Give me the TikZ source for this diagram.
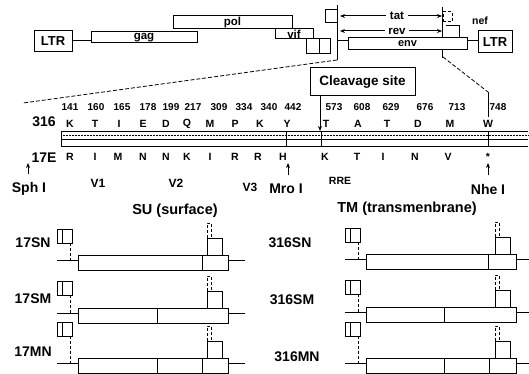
\documentclass[tikz,border=0pt]{standalone}
\usepackage{fontspec}
\setmainfont{Liberation Sans}
\usetikzlibrary{arrows.meta}
\newcommand\fsz[1]{\bfseries\fontsize{#1}{#1}\selectfont}
% #1 name, #2 x offset, #3 bar top, #4 small box top, #5 dividers (local x)
\newcommand\drawconstruct[5]{%
  \begin{scope}[xshift=#2pt]
    \node[box, minimum width=15pt, minimum height=14pt, anchor=north west] (#1L) at (57,#4) {};
    \draw ([xshift=5pt]#1L.north west) -- ([xshift=5pt]#1L.south west);
    \coordinate (#1a) at (57,#3+5);
    \coordinate (#1s) at (70,#3+5);
    \draw[densely dashed] (#1L.south -| #1s) -- (#1s);
    \node[box, minimum width=150pt, minimum height=15pt, anchor=north west] (#1B) at (78,#3) {};
    \draw (#1a) -- (#1a -| #1B.west);
    \draw (#1a -| #1B.east) -- ++(17,0);
    \foreach \d in {#5} \draw (\d,#3) -- (\d,#3+15);
    \node[box, minimum width=15pt, minimum height=17pt, anchor=south west] (#1R) at (207,#3) {};
    \node[box, densely dashed, minimum width=4pt, minimum height=15pt, anchor=south west] (#1T) at (#1R.north west) {};
  \end{scope}}
\begin{document}
\begin{tikzpicture}[x=1pt,y=-1pt,line width=1pt,
  box/.style={draw, fill=white, inner sep=0pt, outer sep=0pt},
  num/.style={font=\fsz{10}, inner sep=0pt},
  aa/.style={font=\fsz{10.5}, inner sep=0pt},
  big/.style={font=\fsz{14}, inner sep=0pt},
  enz/.style={font=\fsz{14}, inner sep=0pt},
  gl/.style={font=\fsz{11.5}, inner sep=0pt},
  tip/.style={-{Stealth[length=5pt,width=4pt]}},
  expl/.style={dash pattern=on 4pt off 2pt, line width=0.8pt}]
\useasboundingbox (0,0) rectangle (529,374);

% ---- genome map ----
\node[box, minimum width=119pt, minimum height=13pt, font=\fsz{11.5}] (pol) at (232.5,22.5) {pol};
\node[box, minimum width=38pt, minimum height=21pt, font=\fsz{13}] (LTRa) at (53,41) {LTR};
\node[box, minimum width=106pt, minimum height=11pt, font=\fsz{11.5}] (gag) at (144,37.5) {gag};
\draw (LTRa.east) -- (LTRa.east -| gag.west);
\node[box, minimum width=38pt, minimum height=10pt, font=\fsz{11.5}] (vif) at (294,34) {vif};
\node[box, minimum width=13pt, minimum height=15pt, anchor=north west] (vpr) at (306,39) {};
\node[box, minimum width=11pt, minimum height=15pt, anchor=north west] (vpx) at (vpr.north east) {};
\node[box, minimum width=12pt, minimum height=13pt, anchor=north west] (tata) at (325,10) {};
\coordinate (vt) at (337,5); \coordinate (vb) at (337,60);
\draw (vt) -- (vb);
\coordinate (rt) at (442,7); \coordinate (rb) at (442,58);
\draw (rt) -- (rb);
\node[gl, fill=white, inner xsep=3pt] (tat) at (397,16) {tat};
\coordinate (tatL) at (340,16); \coordinate (tatR) at (442,16);
\draw[tip] (tat.west) -- (tatL);
\draw[tip] (tat.east) -- (tatR);
\node[gl, fill=white, inner xsep=3pt] (rev) at (397,31) {rev};
\coordinate (revL) at (340,31); \coordinate (revR) at (442,31);
\draw[tip] (rev.west) -- (revL);
\draw[tip] (rev.east) -- (revR);
\node[box, densely dashed, minimum width=9pt, minimum height=10pt, anchor=north west] (tatb) at (443,12) {};
\coordinate (ra) at (446,26); \coordinate (rbb) at (459,26); \coordinate (rc) at (459,38);
\draw (ra) -- (rbb) -- (rc);
\node[gl, font=\fsz{10.5}] (nef) at (480,21) {nef};
\node[box, minimum width=119pt, minimum height=12pt, font=\fsz{11}] (env) at (407.5,44) {env};
\node[box, minimum width=34pt, minimum height=22pt, font=\fsz{13}] (LTRb) at (495,42) {LTR};
\coordinate (g1) at (337,41);
\draw (g1) -- (g1 -| env.west);
\draw (env.east |- g1) -- (g1 -| LTRb.west);

% ---- expansion lines ----
\coordinate (eL) at (23,103);
\draw[expl] (vb) -- (eL);
\coordinate (eR1) at (443,57); \coordinate (eR2) at (488,92); \coordinate (eR3) at (488,117);
\draw[expl] (eR1) -- (eR2);
\draw (eR2) -- (eR3);

% ---- cleavage ----
\node[box, minimum width=105pt, minimum height=28pt, font=\fsz{13.5}] (cleave) at (362.5,82) {Cleavage site};
\coordinate (ct) at (320,131);
\draw[tip] (cleave.south -| ct) -- (ct);

% ---- numbers and residues ----
\foreach \x/\t [count=\i] in {70/141,96/160,122/165,148/178,171/199,193/217,219/309,244/334,269/340,293/442,334/573,362/608,391/629,425/676,457/713,498/748}
  \node[num] (n\i) at (\x,107) {\t};
\foreach \x/\t [count=\i] in {70/K,95/T,119/I,143/E,166/D,187/Q,210/M,235/P,260/K,287/Y,326/T,358/A,387/T,418/D,450/M,488/W}
  \node[aa] (a\i) at (\x,124) {\t};
\foreach \x/\t [count=\i] in {70/R,95/I,118/M,143/N,166/N,187/K,210/I,235/R,258/R,283/H,325/K,357/T,383/I,415/N,448/V,488/*}
  \node[aa] (b\i) at (\x,157) {\t};
\node[big] (l316) at (44,122) {316};
\node[big] (l17E) at (44,158) {17E};

% ---- env bar ----
\node[minimum width=467pt, minimum height=15pt, inner sep=0pt, outer sep=0pt, anchor=north west] (bar) at (61,132) {};
\draw (bar.north east) -- (bar.north west) -- (bar.south west) -- (bar.south east);
\draw (bar.west) -- (bar.east);
\draw[densely dotted, line width=0.5pt] ([yshift=4pt]bar.west) -- ([yshift=4pt]bar.east);
\foreach \x in {286,321,488} \draw (\x,132) -- (\x,147);

% ---- sites ----
\coordinate (sphT) at (28,174); \coordinate (sphH) at (28,163);
\draw[tip] (sphT) -- (sphH);
\node[enz] (sph) at (29,189) {Sph I};
\coordinate (mroT) at (288,175); \coordinate (mroH) at (288,163);
\draw[tip] (mroT) -- (mroH);
\node[enz] (mro) at (286,189) {Mro I};
\coordinate (nheT) at (488,175); \coordinate (nheH) at (488,163);
\draw[tip] (nheT) -- (nheH);
\node[enz] (nhe) at (488,189) {Nhe I};
\node[font=\fsz{12}] (v1) at (98,183) {V1};
\node[font=\fsz{12}] (v2) at (176,183) {V2};
\node[font=\fsz{12}] (v3) at (250,187) {V3};
\node[font=\fsz{10.5}] (rre) at (340,181) {RRE};

% ---- titles ----
\node[font=\fsz{14.5}] (su) at (175,211) {SU (surface)};
\node[font=\fsz{14.5}] (tm) at (407,209) {TM (transmenbrane)};

% ---- constructs ----
\drawconstruct{c1}{0}{255}{229}{202}
\drawconstruct{c2}{0}{308}{281}{157}
\drawconstruct{c3}{0}{358}{322}{157,202}
\drawconstruct{c4}{288}{254}{228}{200}
\drawconstruct{c5}{288}{307}{280}{156}
\drawconstruct{c6}{288}{358}{322}{156,201}
\node[big] (k1) at (33,243) {17SN};
\node[big] (k2) at (33,299) {17SM};
\node[big] (k3) at (33,352) {17MN};
\node[big] (k4) at (290,243) {316SN};
\node[big] (k5) at (292,300) {316SM};
\node[big] (k6) at (297,357) {316MN};
\end{tikzpicture}
\end{document}
